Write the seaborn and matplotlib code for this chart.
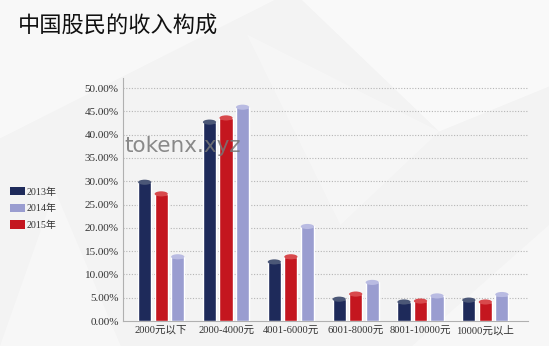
import numpy as np
import pandas as pd
import matplotlib
matplotlib.use("Agg")
import matplotlib.pyplot as plt
from matplotlib.patches import Ellipse, Patch, Polygon
import seaborn as sns

categories = ["2000元以下", "2000-4000元", "4001-6000元", "6001-8000元", "8001-10000元", "10000元以上"]
share_2013 = [29.8, 42.7, 12.7, 4.7, 4.1, 4.5]
share_2014 = [13.8, 45.9, 20.3, 8.3, 5.4, 5.7]
share_2015 = [27.3, 43.6, 13.8, 5.8, 4.3, 4.1]
years = ["2013年", "2014年", "2015年"]
draw_order = ["2013年", "2015年", "2014年"]
colors = {"2013年": "#1e2a5a", "2014年": "#9a9dd0", "2015年": "#c4161f"}
cap_colors = {"2013年": "#4b5777", "2014年": "#b9bbe2", "2015年": "#d8494c"}
y_ticks = [0, 5, 10, 15, 20, 25, 30, 35, 40, 45, 50]

df = pd.DataFrame({
    "收入": categories * 3,
    "年份": ["2013年"] * 6 + ["2014年"] * 6 + ["2015年"] * 6,
    "占比": share_2013 + share_2014 + share_2015,
})

sns.set_theme(style="white")
plt.rcParams["font.family"] = ["Liberation Serif", "Noto Sans CJK SC"]

fig = plt.figure(figsize=(5.49, 3.46), dpi=100)
fig.patch.set_facecolor("#f3f3f3")

# soft faceted background
bg = fig.add_axes([0, 0, 1, 1], zorder=-10)
bg.set_xlim(0, 1); bg.set_ylim(0, 1); bg.axis("off")
bg.add_patch(Polygon([(0, 0), (1, 0), (1, 1), (0, 1)], facecolor="#f3f3f3", edgecolor="none"))
for pts, a in [([(0.0, 1.0), (0.5, 1.0), (0.0, 0.6)], 0.45),
               ([(0.55, 1.0), (1.0, 1.0), (1.0, 0.75), (0.8, 0.62)], 0.55),
               ([(0.45, 0.9), (0.8, 0.62), (0.62, 0.35)], 0.3),
               ([(0.0, 0.0), (0.22, 0.0), (0.1, 0.45)], 0.35),
               ([(0.75, 0.0), (1.0, 0.0), (1.0, 0.35)], 0.35)]:
    bg.add_patch(Polygon(pts, closed=True, facecolor="white", alpha=a, edgecolor="none"))

ax = fig.add_axes([0.224, 0.072, 0.738, 0.703])
ax.set_facecolor("none")

sns.barplot(data=df, x="收入", y="占比", hue="年份", hue_order=draw_order,
            order=categories, palette=colors, width=0.765, gap=0.2,
            saturation=1, legend=False, ax=ax, zorder=3)

# cylinder caps on top of every bar
for container, yr in zip(ax.containers, draw_order):
    for bar in container:
        cx = bar.get_x() + bar.get_width() / 2
        top = bar.get_height()
        ax.add_patch(Ellipse((cx, top), bar.get_width(), 1.1,
                             facecolor=cap_colors[yr], edgecolor="none", zorder=4))

ax.set_ylim(0, 52.2)
ax.set_xlim(-0.59, 5.66)
ax.set_yticks(y_ticks)
ax.set_yticklabels([f"{v:.2f}%" for v in y_ticks], fontsize=8, color="#333333")
ax.set_xticks(range(len(categories)))
ax.set_xticklabels(categories, fontsize=7.6, color="#333333")
ax.tick_params(axis="both", length=0, pad=3)
ax.set_xlabel("")
ax.set_ylabel("")
for v in y_ticks[1:]:
    ax.axhline(v, color="#b5b5b5", linestyle=(0, (1, 1.5)), linewidth=0.8, zorder=1)
for side in ["top", "right"]:
    ax.spines[side].set_visible(False)
for side in ["left", "bottom"]:
    ax.spines[side].set_color("#b0b0b0")
    ax.spines[side].set_linewidth(0.8)

handles = [Patch(facecolor=colors[y], edgecolor="none") for y in years]
fig.legend(handles, years, loc="upper left", bbox_to_anchor=(0.002, 0.485),
           frameon=False, fontsize=7.2, handlelength=1.5, handleheight=0.9,
           handletextpad=0.15, labelspacing=0.7, labelcolor="#333333")

fig.text(0.032, 0.925, "中国股民的收入构成", fontsize=16, color="#111111",
         family=["Noto Sans CJK SC", "DejaVu Sans"], va="center")
fig.text(0.226, 0.578, "tokenx.xyz", fontsize=15.5, color="#777777", alpha=0.85,
         family=["DejaVu Sans"], va="center")

fig.savefig("out.png", dpi=100)
